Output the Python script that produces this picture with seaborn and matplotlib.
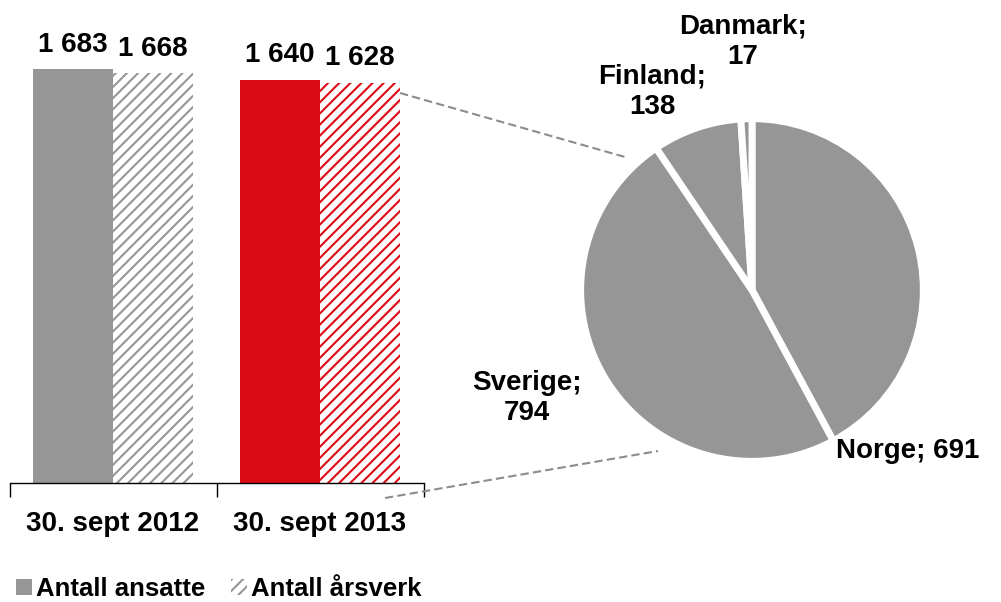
import matplotlib
matplotlib.use('Agg')
import matplotlib.pyplot as plt
import pandas as pd
import seaborn as sns
from matplotlib.lines import Line2D
from matplotlib.patches import Patch

# data
dates = ['30. sept 2012', '30. sept 2013']
measures = ['Antall ansatte', 'Antall årsverk']
ansatte = [1683, 1640]
arsverk = [1668, 1628]

countries = ['Norge', 'Sverige', 'Finland', 'Danmark']
country_vals = [691, 794, 138, 17]

GREY = '#969696'
RED = '#DC0A14'
DASH = '#8C8C8C'

W, H = 1001, 602


def px(x, y):
    # image pixels -> figure fraction
    return x / W, 1 - y / H


sns.set_style('white')
plt.rcParams['font.family'] = ['Liberation Sans', 'DejaVu Sans']
plt.rcParams['font.weight'] = 'bold'
plt.rcParams['text.color'] = 'black'
plt.rcParams['xtick.color'] = 'black'
plt.rcParams['xtick.labelcolor'] = 'black'
plt.rcParams['hatch.linewidth'] = 1.5

df = pd.DataFrame({
    'date': dates * 2,
    'measure': [measures[0]] * len(dates) + [measures[1]] * len(dates),
    'value': ansatte + arsverk,
})

fig = plt.figure(figsize=(W / 100, H / 100), dpi=100)

# --- bar chart ---
ax = fig.add_axes([9.5 / W, 119 / H, 414 / W, 467.4 / H])
sns.barplot(data=df, x='date', y='value', hue='measure', order=dates,
            hue_order=measures, palette=[GREY, GREY], saturation=1,
            width=0.775, gap=0, legend=False, ax=ax)

bar_colors = [GREY, RED]
for i, cont in enumerate(ax.containers):
    for j, bar in enumerate(cont.patches):
        c = bar_colors[j]
        if i == 0:
            bar.set_facecolor(c)
            bar.set_edgecolor(c)
            bar.set_linewidth(0)
        else:
            bar.set_facecolor('white')
            bar.set_edgecolor(c)
            bar.set_hatch('///')
            bar.set_linewidth(0)
    ax.bar_label(cont, labels=[f'{v:,.0f}'.replace(',', ' ') for v in cont.datavalues],
                 padding=8, fontsize=20, fontweight='bold', color='black')

ax.set_xlim(-0.5, len(dates) - 0.5)
ax.set_ylim(0, 1900)
ax.set_yticks([])
ax.set_xlabel('')
ax.set_ylabel('')
sns.despine(ax=ax, left=True)
ax.spines['bottom'].set_color('black')
ax.spines['bottom'].set_linewidth(1)
ax.set_xticks([i - 0.5 for i in range(len(dates) + 1)], minor=True)
ax.tick_params(axis='x', which='major', length=0, pad=20, labelsize=20,
               labelcolor='black')
ax.tick_params(axis='x', which='minor', bottom=True, length=10, width=1,
               color='black', direction='out')
for t in ax.get_xticklabels():
    t.set_fontweight('bold')

# --- pie chart ---
pax = fig.add_axes([584 / W, (H - 458) / H, 336 / W, 336 / H])
pax.pie(country_vals, colors=[GREY] * len(country_vals), startangle=90,
        counterclock=False, radius=1.02,
        wedgeprops=dict(edgecolor='white', linewidth=5))
pax.set_xlim(-1.0, 1.0)
pax.set_ylim(-1.0, 1.0)
pax.set_aspect('equal')

label_pos = [(908, 451), (527, 398), (652, 92), (743, 42)]
one_line = [True, False, False, False]
for name, val, (x, y), single in zip(countries, country_vals, label_pos, one_line):
    sep = ' ' if single else '\n'
    fig.text(*px(x, y), f'{name};{sep}{val}', ha='center', va='center',
             fontsize=20, fontweight='bold', linespacing=1.25, color='black')

# dashed connectors from the 2013 bar to the pie
fig.add_artist(Line2D([px(400, 93)[0], px(625, 157)[0]], [px(400, 93)[1], px(625, 157)[1]],
                      transform=fig.transFigure, color=DASH, lw=1.5, ls=(0, (4, 2))))
fig.add_artist(Line2D([px(385, 498)[0], px(658, 451)[0]], [px(385, 498)[1], px(658, 451)[1]],
                      transform=fig.transFigure, color=DASH, lw=1.5, ls=(0, (4, 2))))

# legend
handles = [Patch(facecolor=GREY, edgecolor=GREY, lw=0),
           Patch(facecolor='white', edgecolor=GREY, hatch='///', lw=0)]
fig.legend(handles=handles, labels=measures, loc='lower left',
           bbox_to_anchor=(-0.007, -0.037), ncol=2, frameon=False,
           handlelength=0.6, handleheight=0.6, handletextpad=0.18,
           columnspacing=1.0, prop=dict(weight='bold', size=18.5))

fig.savefig('out.png', dpi=100)
